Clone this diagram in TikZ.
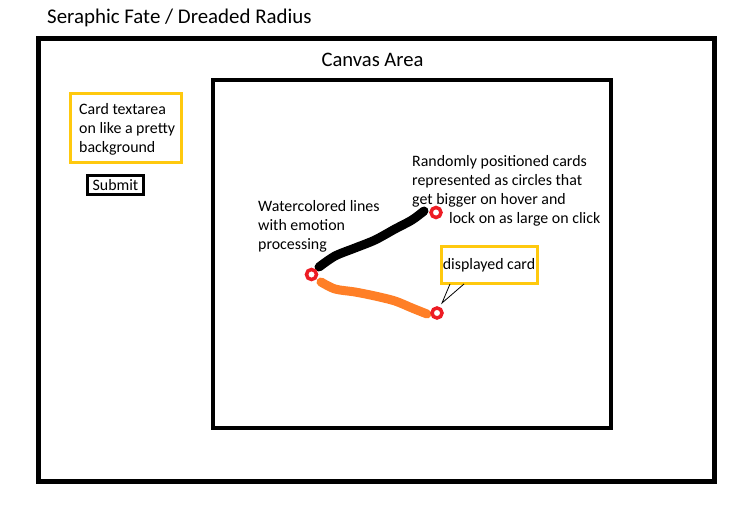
\documentclass[tikz,border=0pt]{standalone}
\usepackage{fontspec}
\setmainfont{Carlito}
\definecolor{pyellow}{RGB}{255,201,14}
\definecolor{porange}{RGB}{255,127,39}
\definecolor{pred}{RGB}{237,28,36}
\begin{document}
\begin{tikzpicture}[x=1pt,y=-1pt,
  txt/.style={inner sep=0pt,font=\fontsize{15.9}{19}\selectfont,align=left},
  ybox/.style={draw=pyellow,line width=3pt,inner sep=0pt},
  card/.style={circle,draw=pred,fill=white,line width=3.5pt,minimum size=10pt,inner sep=0pt},
  stroke/.style={line width=9pt,line cap=round,line join=round}]
\useasboundingbox (0,0) rectangle (755,521);
\node[anchor=west,inner sep=0pt,font=\fontsize{20.9}{24}\selectfont] (title) at (47,17.5) {Seraphic Fate / Dreaded Radius};
\draw[line width=5pt] (38.5,38.5) rectangle (714.5,481.5);
\draw[line width=4pt] (213,80) rectangle (610.5,427.5);
\node[inner sep=0pt,font=\fontsize{20.6}{24}\selectfont] (canvas) at (372.5,59.5) {Canvas Area};
% card textarea
\draw[ybox] (70.5,93.5) rectangle (181.5,162.5);
\node[txt,anchor=north west] (cardtext) at (79,103) {Card textarea\\on like a pretty\\background};
\node[draw,line width=3pt,inner sep=2pt,minimum width=56pt,minimum height=19pt,font=\fontsize{15.9}{18}\selectfont] (submit) at (115.5,185) {Submit};
% texts
\node[txt,anchor=north west] (rand) at (412,155) {Randomly positioned cards\\represented as circles that\\get bigger on hover and};
\node[txt,anchor=north west] (lock) at (449,212) {lock on as large on click};
\node[txt,anchor=north west] (water) at (258,200) {Watercolored lines\\with emotion\\processing};
% strokes
\draw[stroke,black] plot[smooth] coordinates {(319,267) (335,256) (355,248) (375,240) (395,229) (412,220) (424,211)};
\draw[stroke,porange] plot[smooth] coordinates {(321,282) (335,289) (355,292) (375,296) (395,301) (412,308) (427,314)};
% cards
\node[card] (c1) at (311.5,274.5) {};
\node[card] (c2) at (436,212.5) {};
\node[card] (c3) at (437,313) {};
% displayed card
\node[ybox,minimum width=96pt,minimum height=37pt,font=\fontsize{15.9}{18}\selectfont] (disp) at (489,265.5) {displayed card};
\coordinate (p1) at (450,284);
\coordinate (p2) at (464,284);
\coordinate (tip) at (442,303);
\draw[line width=0.8pt] (p1) -- (tip) -- (p2);
\end{tikzpicture}
\end{document}
